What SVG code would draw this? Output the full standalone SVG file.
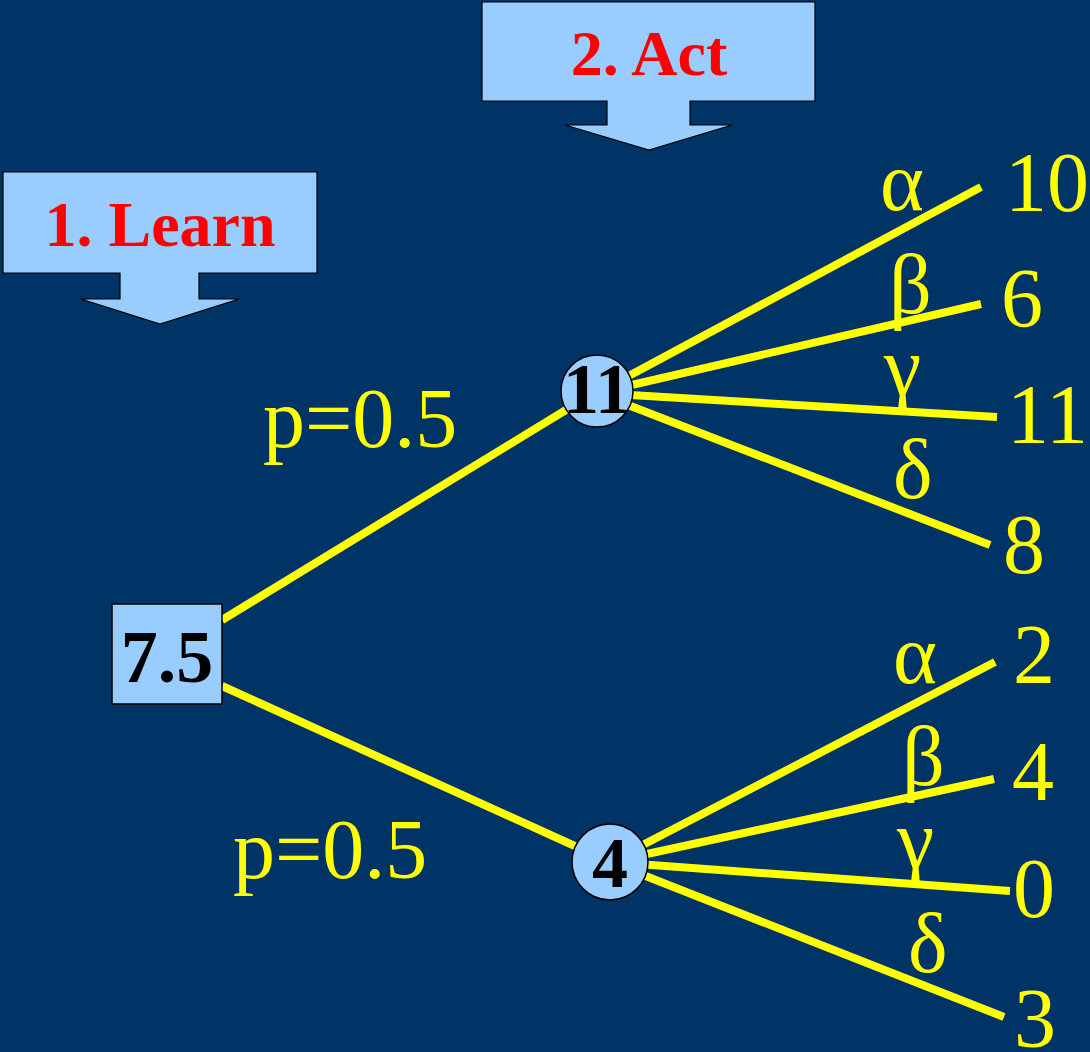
<svg xmlns="http://www.w3.org/2000/svg" width="1090" height="1052" viewBox="0 0 1090 1052">
<style>
.bg{fill:#003366}
.callout{fill:#99CCFF;stroke:#000;stroke-width:1.2}
.node{fill:#99CCFF;stroke:#000;stroke-width:1.5}
.lbl{font-family:"Liberation Serif","Times New Roman",serif;font-size:84px;fill:#FFFF00}
.nt{font-family:"Liberation Serif","Times New Roman",serif;font-weight:bold;fill:#000;text-anchor:middle}
.ct{font-family:"Liberation Serif","Times New Roman",serif;font-weight:bold;font-size:64px;fill:#FF0000;text-anchor:middle}
.edge{stroke:#FFFF00;stroke-width:8;fill:none}
</style>
<rect class="bg" x="0" y="0" width="1090" height="1052"/>
<g id="learn">
<polygon class="callout" points="3,172 317,172 317,273 199,273 199,299 239,299 160,324 81,299 120,299 120,273 3,273"/>
<text class="ct" x="160" y="246">1. Learn</text>
</g>
<g id="act">
<polygon class="callout" points="482,2 815,2 815,101 690,101 690,125 732,125 649,150 565,125 607,125 607,101 482,101"/>
<text class="ct" x="649" y="75">2. Act</text>
</g>
<g id="connectors">
<line class="edge" x1="222" y1="620" x2="597" y2="391"/>
<line class="edge" x1="222" y1="686" x2="610" y2="862"/>
<line class="edge" x1="597" y1="393" x2="981" y2="187"/>
<line class="edge" x1="597" y1="393" x2="981" y2="304"/>
<line class="edge" x1="597" y1="393" x2="997" y2="417"/>
<line class="edge" x1="597" y1="393" x2="990" y2="545"/>
<line class="edge" x1="610" y1="862" x2="995" y2="662"/>
<line class="edge" x1="610" y1="862" x2="994" y2="779"/>
<line class="edge" x1="610" y1="862" x2="1010" y2="891"/>
<line class="edge" x1="610" y1="862" x2="1004" y2="1017"/>
</g>
<g id="root">
<rect class="node" x="112" y="604" width="110" height="100"/>
<text class="nt" x="167" y="682" font-size="74">7.5</text>
</g>
<g id="chance-up">
<circle class="node" cx="597" cy="391" r="36"/>
<text class="nt" x="597" y="413" font-size="72">11</text>
</g>
<g id="chance-down">
<circle class="node" cx="610" cy="862" r="38"/>
<text class="nt" x="610" y="887" font-size="72">4</text>
</g>
<g id="labels">
<text class="lbl" x="263" y="447">p=0.5</text>
<text class="lbl" x="233" y="878">p=0.5</text>
<text class="lbl" x="880" y="210">α</text>
<text class="lbl" x="889" y="313">β</text>
<text class="lbl" x="884" y="395">γ</text>
<text class="lbl" x="893" y="498">δ</text>
<text class="lbl" x="1005" y="211">10</text>
<text class="lbl" x="1001" y="327">6</text>
<text class="lbl" x="1007" y="443">11</text>
<text class="lbl" x="1003" y="573">8</text>
<text class="lbl" x="893" y="683">α</text>
<text class="lbl" x="902" y="785">β</text>
<text class="lbl" x="897" y="868">γ</text>
<text class="lbl" x="908" y="972">δ</text>
<text class="lbl" x="1013" y="683">2</text>
<text class="lbl" x="1012" y="800">4</text>
<text class="lbl" x="1013" y="917">0</text>
<text class="lbl" x="1014" y="1047">3</text>
</g>
</svg>
